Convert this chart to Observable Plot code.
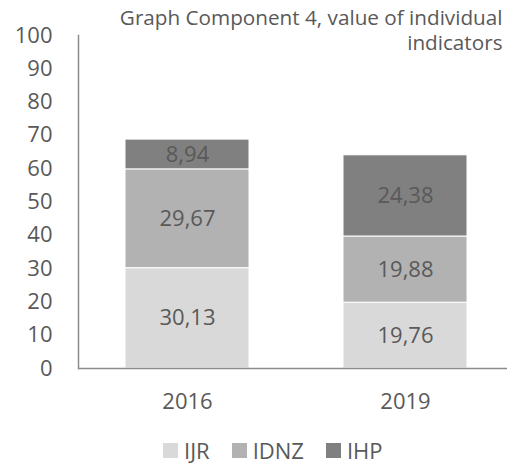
<!DOCTYPE html>
<html>
<head>
<meta charset="utf-8">
<script src="https://cdn.jsdelivr.net/npm/d3@7"></script>
<script src="https://cdn.jsdelivr.net/npm/@observablehq/plot@0.6"></script>
<style>
  html, body { margin: 0; padding: 0; background: #fff; }
  body { width: 507px; height: 465px; overflow: hidden; font-family: "Open Sans", sans-serif; }
  #chart svg { display: block; }
  #legend { display: flex; align-items: center; height: 18px; margin-top: 1px; padding-left: 163px;
            font-size: 22px; line-height: 18px; color: #595959; }
  #legend .item { display: flex; align-items: center; margin-right: 22px; }
  #legend .sw { width: 15px; height: 15px; margin-right: 6px; }
</style>
</head>
<body>
<div id="chart"></div>
<div id="legend"></div>
<script>
// ---- data ----
const years = ["2016", "2019"];
const series = ["IJR", "IDNZ", "IHP"];
const IJR = [30.13, 19.76];
const IDNZ = [29.67, 19.88];
const IHP = [8.94, 24.38];
const colors = ["#d9d9d9", "#b2b2b2", "#808080"];
const yTicks = [0, 10, 20, 30, 40, 50, 60, 70, 80, 90, 100];
const title = "Graph Component 4, value of individual\nindicators";

const rows = [];
[IJR, IDNZ, IHP].forEach((vals, si) =>
  vals.forEach((v, yi) => rows.push({ year: years[yi], series: series[si], value: v }))
);
const fmt = v => v.toFixed(2).replace(".", ",");

const plot = Plot.plot({
  width: 507,
  height: 440,
  marginLeft: 78,
  marginRight: 0,
  marginTop: 35,
  marginBottom: 72,
  style: { fontFamily: "Open Sans", fontSize: "22px", color: "#595959", background: "white" },
  x: { domain: years, range: [78, 514], paddingInner: 0.43, paddingOuter: 0.215, label: null },
  y: { domain: [0, 100], label: null },
  color: { domain: series, range: colors },
  marks: [
    Plot.barY(rows, { x: "year", y: "value", fill: "series", z: "series", stroke: "white", strokeWidth: 1 }),
    Plot.text(rows, Plot.stackY({ x: "year", y: "value", z: "series", text: d => fmt(d.value), fill: "#595959", fontSize: 22 })),
    Plot.ruleY([0], { stroke: "#8c8c8c", strokeWidth: 1.5 }),
    Plot.frame({ anchor: "left", stroke: "#8c8c8c", strokeWidth: 1.5 }),
    Plot.axisY({ ticks: yTicks, tickSize: 0, tickPadding: 26, label: null, fontSize: 22 }),
    Plot.axisX({ tickSize: 0, tickPadding: 25, label: null, fontSize: 22 }),
    Plot.text([title], { frameAnchor: "top-right", text: d => d, textAnchor: "end", lineAnchor: "top",
                         lineHeight: 1.2, dx: -5, dy: -28, fontSize: 20.7, fill: "#595959" })
  ]
});
document.getElementById("chart").appendChild(plot);

const legend = document.getElementById("legend");
series.forEach((s, i) => {
  const item = document.createElement("div");
  item.className = "item";
  const sw = document.createElement("span");
  sw.className = "sw";
  sw.style.background = colors[i];
  const lab = document.createElement("span");
  lab.textContent = s;
  item.appendChild(sw);
  item.appendChild(lab);
  legend.appendChild(item);
});
</script>
</body>
</html>
